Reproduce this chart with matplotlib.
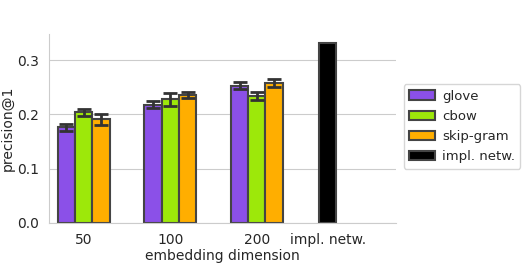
import numpy as np
import matplotlib
matplotlib.use('Agg')
import matplotlib.pyplot as plt
import seaborn as sns

sns.set_style('whitegrid')
plt.rcParams['font.family'] = ['DejaVu Sans']

groups = ['50', '100', '200']
methods = ['glove', 'cbow', 'skip-gram']
colors = ['#8b50e8', '#9de80a', '#ffae00']
values = {
    'glove': [0.176, 0.218, 0.253],
    'cbow': [0.204, 0.228, 0.234],
    'skip-gram': [0.191, 0.236, 0.258],
}
errors = {
    'glove': [0.007, 0.007, 0.007],
    'cbow': [0.0065, 0.012, 0.007],
    'skip-gram': [0.010, 0.005, 0.0075],
}
impl_label = 'impl. netw.'
impl_value = 0.331

fig = plt.figure(figsize=(5.22, 2.64), dpi=100)
ax = fig.add_axes([0.094, 0.156, 0.665, 0.715])

x = np.arange(len(groups))
width = 0.2
for i, (m, c) in enumerate(zip(methods, colors)):
    ax.bar(x + (i - 1) * width, values[m], width, yerr=errors[m], color=c,
           edgecolor='#444444', linewidth=1.5, label=m,
           error_kw=dict(ecolor='#333333', elinewidth=2, capsize=5, capthick=2))

impl_x = 2.82
ax.bar([impl_x], [impl_value], width, color='black', edgecolor='#444444',
       linewidth=1.5, label=impl_label)

ax.set_xticks(list(x) + [impl_x])
ax.set_xticklabels(groups + [impl_label])
ax.set_xlim(-0.4, 3.61)
ax.set_ylim(0, 0.348)
ax.set_yticks([0.0, 0.1, 0.2, 0.3])
ax.xaxis.grid(False)
ax.set_xlabel('embedding dimension', fontsize=10, labelpad=2)
ax.set_ylabel('precision@1', fontsize=10, labelpad=2)
ax.tick_params(labelsize=10)
sns.despine(ax=ax)
for s in ['left', 'bottom']:
    ax.spines[s].set_color('#cccccc')

ax.legend(loc='center left', bbox_to_anchor=(1.01, 0.51), fontsize=9.5,
          frameon=True, handletextpad=0.5, borderpad=0.4, borderaxespad=0.3,
          labelspacing=0.55)

fig.savefig('out.png', dpi=100)
